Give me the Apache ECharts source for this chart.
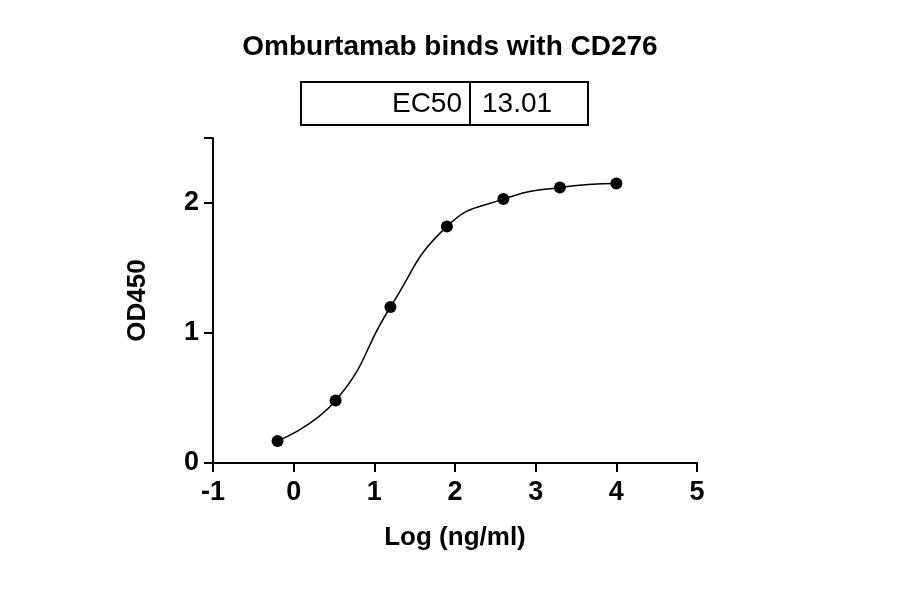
<!DOCTYPE html>
<html><head><meta charset="utf-8">
<script src="https://cdn.jsdelivr.net/npm/echarts@6/dist/echarts.min.js"></script>
<style>html,body{margin:0;background:#fff}#c{width:900px;height:594px}</style>
</head><body><div id="c"></div>
<script>
// log concentration vs OD450
var logConc = [-0.2, 0.52, 1.2, 1.9, 2.6, 3.3, 4.0];
var od450 = [0.17, 0.48, 1.2, 1.82, 2.03, 2.12, 2.15];
var ec50Label = 'EC50';
var ec50Value = '13.01';

var pts = logConc.map(function (x, i) { return [x, od450[i]]; });
var chart = echarts.init(document.getElementById('c'));
var font = 'Liberation Sans, Arial, sans-serif';
chart.setOption({
  animation: false,
  title: {
    text: 'Omburtamab binds with CD276', left: 'center', top: 28,
    textStyle: { fontFamily: font, fontSize: 28, fontWeight: 'bold', color: '#000' }
  },
  grid: { left: 213, right: 203, top: 138, bottom: 131 },
  xAxis: {
    type: 'value', min: -1, max: 5, interval: 1,
    name: 'Log (ng/ml)', nameLocation: 'middle', nameGap: 62,
    nameTextStyle: { fontFamily: font, fontSize: 26, fontWeight: 'bold', color: '#000' },
    axisLine: { onZero: false, lineStyle: { color: '#000', width: 2 } },
    axisTick: { inside: false, length: 9, lineStyle: { color: '#000', width: 2 } },
    axisLabel: { fontFamily: font, fontSize: 27, fontWeight: 'bold', color: '#000', margin: 16 },
    splitLine: { show: false }
  },
  yAxis: {
    type: 'value', min: 0, max: 2.5, interval: 1,
    name: 'OD450', nameLocation: 'middle', nameGap: 62,
    nameTextStyle: { fontFamily: font, fontSize: 26, fontWeight: 'bold', color: '#000' },
    axisLine: { show: true, onZero: false, lineStyle: { color: '#000', width: 2 } },
    axisTick: { show: true, length: 9, lineStyle: { color: '#000', width: 2 } },
    axisLabel: { fontFamily: font, fontSize: 27, fontWeight: 'bold', color: '#000', margin: 14,
      formatter: function (v) { return v % 1 === 0 ? v : ''; } },
    splitLine: { show: false }
  },
  series: [{
    type: 'line', data: pts, smooth: 0.5,
    symbol: 'circle', symbolSize: 12,
    itemStyle: { color: '#000' },
    lineStyle: { color: '#000', width: 1.5 }
  }],
  graphic: [
    { type: 'rect', shape: { x: 301, y: 82, width: 287, height: 43 },
      style: { fill: '#fff', stroke: '#000', lineWidth: 2 } },
    { type: 'line', shape: { x1: 470, y1: 82, x2: 470, y2: 125 },
      style: { stroke: '#000', lineWidth: 2 } },
    { type: 'text', x: 462, y: 104,
      style: { text: ec50Label, align: 'right', verticalAlign: 'middle', font: '28px ' + font, fill: '#000' } },
    { type: 'text', x: 482, y: 104,
      style: { text: ec50Value, align: 'left', verticalAlign: 'middle', font: '28px ' + font, fill: '#000' } }
  ]
});
</script></body></html>
